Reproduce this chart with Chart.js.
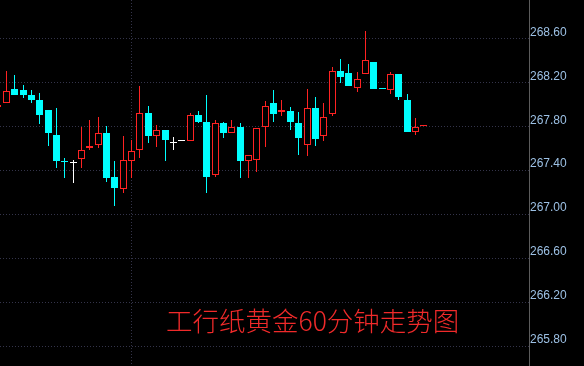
<!DOCTYPE html>
<html>
<head>
<meta charset="utf-8">
<script src="https://cdn.jsdelivr.net/npm/chart.js@4.4.1/dist/chart.umd.min.js"></script>
<style>
  html, body { margin: 0; padding: 0; background: #000; }
  canvas { display: block; }
</style>
</head>
<body>
<canvas id="kline" width="584" height="366"></canvas>
<script>
// 60-minute candles
const opens = [
  267.975, 268.015, 268.14, 268.13, 268.085, 268.04, 267.95, 267.72, 267.475, 267.465,
  267.50, 267.605, 267.625, 267.74, 267.34, 267.225, 267.48, 267.58, 267.92, 267.715,
  267.765, 267.65, 267.665, 267.67, 267.90, 267.84, 267.36, 267.83, 267.742, 267.795,
  267.48, 267.495, 267.79, 268.01, 267.925, 267.94, 267.83, 267.633, 267.966, 267.715,
  267.912, 268.303, 268.285, 268.15, 268.278, 268.385, 268.138, 268.13, 268.275, 268.04,
  267.751, 267.80
];
const highs = [
  268.00, 268.30, 268.27, 268.175, 268.13, 268.10, 267.95, 267.97, 267.51, 267.49,
  267.79, 267.86, 267.88, 267.80, 267.485, 267.71, 267.675, 268.17, 267.985, 267.81,
  267.765, 267.70, 267.665, 267.92, 267.94, 268.085, 267.86, 267.84, 267.86, 267.83,
  267.54, 267.785, 268.03, 268.13, 268.04, 267.975, 267.93, 268.14, 268.066, 268.01,
  268.34, 268.41, 268.366, 268.294, 268.666, 268.385, 268.138, 268.296, 268.275, 268.094,
  267.876, 267.81
];
const lows = [
  267.97, 268.01, 268.08, 268.06, 268.015, 267.82, 267.62, 267.42, 267.33, 267.28,
  267.42, 267.585, 267.605, 267.29, 267.07, 267.19, 267.325, 267.51, 267.65, 267.61,
  267.48, 267.58, 267.665, 267.67, 267.83, 267.195, 267.34, 267.695, 267.742, 267.33,
  267.33, 267.38, 267.615, 267.84, 267.895, 267.765, 267.54, 267.525, 267.62, 267.665,
  267.894, 268.195, 268.17, 268.112, 268.278, 268.14, 268.135, 268.094, 268.042, 267.75,
  267.72, 267.80
];
const closes = [
  267.995, 268.12, 268.085, 268.085, 268.04, 267.90, 267.74, 267.48, 267.47, 267.465,
  267.585, 267.62, 267.74, 267.325, 267.24, 267.495, 267.575, 267.92, 267.71, 267.765,
  267.675, 267.65, 267.665, 267.90, 267.84, 267.34, 267.83, 267.74, 267.794, 267.485,
  267.54, 267.785, 267.985, 267.91, 267.948, 267.84, 267.695, 267.966, 267.685, 267.885,
  268.303, 268.248, 268.17, 268.227, 268.40, 268.14, 268.135, 268.275, 268.07, 267.75,
  267.794, 267.81
];
const priceTicks = [265.80, 266.20, 266.60, 267.00, 267.40, 267.80, 268.20, 268.60];
const dayBreak = 16;
const caption = '工行纸黄金60分钟走势图';

const UP = '#ff2222';
const DOWN = '#00ffff';
const FLAT = '#ffffff';

const candleColor = i => closes[i] > opens[i] ? UP : (closes[i] < opens[i] ? DOWN : FLAT);
const colors = opens.map((o, i) => candleColor(i));
const bodyFill = colors.map(c => c === UP ? '#000000' : c);

// snap bars to whole pixels so the 1px outlines stay sharp
const snapPlugin = {
  id: 'snap',
  beforeDatasetsDraw(chart) {
    chart.getSortedVisibleDatasetMetas().forEach(meta => {
      meta.data.forEach(el => {
        el.x = Math.floor(el.x) + 0.5;
        el.y = Math.round(el.y);
        el.base = Math.round(el.base);
      });
    });
  }
};

const captionPlugin = {
  id: 'caption',
  afterDatasetsDraw(chart) {
    const ctx = chart.ctx;
    ctx.save();
    ctx.font = '300 26.5px "Noto Sans CJK SC"';
    ctx.fillStyle = '#f02a2a';
    ctx.textBaseline = 'alphabetic';
    ctx.fillText(caption, 166, 331);
    ctx.restore();
  }
};

Chart.defaults.font.family = '"Liberation Sans", Arial, sans-serif';

new Chart(document.getElementById('kline'), {
  type: 'bar',
  data: {
    datasets: [
      {
        label: 'body',
        data: opens.map((o, i) => ({ x: i, y: [o, closes[i]] })),
        backgroundColor: bodyFill,
        borderColor: colors,
        borderWidth: 1,
        borderSkipped: false,
        barThickness: 7,
        minBarLength: 1,
        inflateAmount: 0,
        grouped: false,
        order: 0
      },
      {
        label: 'wick',
        data: lows.map((l, i) => ({ x: i, y: [l, highs[i]] })),
        backgroundColor: colors,
        borderWidth: 0,
        barThickness: 1,
        inflateAmount: 0,
        grouped: false,
        order: 1
      }
    ]
  },
  options: {
    responsive: false,
    animation: false,
    devicePixelRatio: 1,
    layout: { padding: 0 },
    plugins: {
      legend: { display: false },
      tooltip: { enabled: false },
      title: { display: false }
    },
    scales: {
      x: {
        type: 'linear',
        min: 0.245,
        max: 63.57,
        offset: false,
        afterBuildTicks: s => { s.ticks = [{ value: dayBreak }]; },
        afterFit: s => { s.height = 0; s.paddingLeft = 0; s.paddingRight = 0; },
        ticks: { display: false },
        grid: { color: '#34344a', drawTicks: false, offset: false },
        border: { display: false, dash: [1, 2] }
      },
      y: {
        type: 'linear',
        position: 'right',
        min: 265.6182,
        max: 268.9485,
        afterBuildTicks: s => { s.ticks = priceTicks.map(v => ({ value: v })); },
        afterFit: s => { s.width = 55; s.paddingTop = 0; s.paddingBottom = 0; },
        ticks: {
          color: '#9cc0e4',
          font: { size: 12 },
          padding: 1,
          labelOffset: -6,
          callback: v => v.toFixed(2)
        },
        grid: { color: '#34344a', drawTicks: false },
        border: { display: true, color: '#5c5c5c', width: 1, dash: [1, 2] }
      }
    }
  },
  plugins: [snapPlugin, captionPlugin]
});
</script>
</body>
</html>
